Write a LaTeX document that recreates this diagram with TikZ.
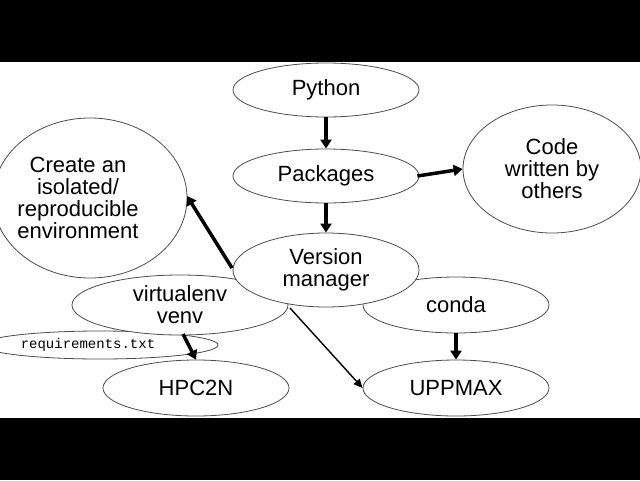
\documentclass[tikz,border=0pt]{standalone}
\usepackage{fontspec}
\setmainfont{Liberation Sans}
\setmonofont{Liberation Mono}
\usetikzlibrary{shapes.geometric,arrows.meta}
\begin{document}
\begin{tikzpicture}[x=1pt,y=-1pt,
  el/.style={draw=black!70,line width=0.8pt,fill=white},
  lab/.style={font=\fontsize{22}{25}\selectfont,align=center},
  thick arr/.style={-{Triangle[length=9pt,width=11pt]},line width=3.5pt},
  thin arr/.style={-{Triangle[length=9pt,width=8pt]},line width=1.4pt}]
\useasboundingbox (0,0) rectangle (640,480);
\fill[black] (0,0) rectangle (640,62);
\fill[black] (0,418) rectangle (640,480);
\begin{scope}
\clip (0,62) rectangle (640,418);
\draw[el] (90,198) ellipse [x radius=97,y radius=80];
\draw[el] (100,345) ellipse [x radius=118,y radius=14];
\draw[el] (180,305) ellipse [x radius=108,y radius=30];
\end{scope}
\node[el,ellipse,minimum width=186pt,minimum height=54pt] (py) at (326,90) {};
\node[el,ellipse,minimum width=186pt,minimum height=54pt] (pk) at (326,176) {};
\node[el,ellipse,minimum width=178pt,minimum height=128pt] (code) at (552,169) {};
\node[el,ellipse,minimum width=186pt,minimum height=56pt] (conda) at (456,305) {};
\node[el,ellipse,minimum width=186pt,minimum height=74pt] (vm) at (326,270) {};
\node[el,ellipse,minimum width=186pt,minimum height=56pt] (hpc) at (196,388) {};
\node[el,ellipse,minimum width=186pt,minimum height=56pt] (upp) at (456,388) {};
\coordinate (cr) at (187,196);
\coordinate (vs) at (183,334);
\node[lab] at (py) {Python};
\node[lab] at (pk) {Packages};
\node[lab] at (552,169) {Code\\[-3pt]written by\\[-3pt]others};
\node[lab] at (78,198) {Create an\\[-3pt]isolated/\\[-3pt]reproducible\\[-3pt]environment};
\node[lab] at (vm) {Version\\[-3pt]manager};
\node[lab] at (180,305) {virtualenv\\[-3pt]venv};
\node[lab] at (conda) {conda};
\node[lab] at (hpc) {HPC2N};
\node[lab] at (upp) {UPPMAX};
\node[font=\ttfamily\fontsize{14}{16}\selectfont] (req) at (88,345) {requirements.txt};
\draw[thick arr] (py) -- (pk);
\draw[thick arr] (pk.east) ++(-2,0) -- (code.west);
\draw[thick arr] (pk) -- (vm);
\draw[thick arr] (232,268) -- (cr);
\draw[thick arr] (vs) -- (hpc.north);
\draw[thick arr] (conda) -- (upp);
\draw[thin arr] (290,308) -- (upp.west);
\end{tikzpicture}
\end{document}
